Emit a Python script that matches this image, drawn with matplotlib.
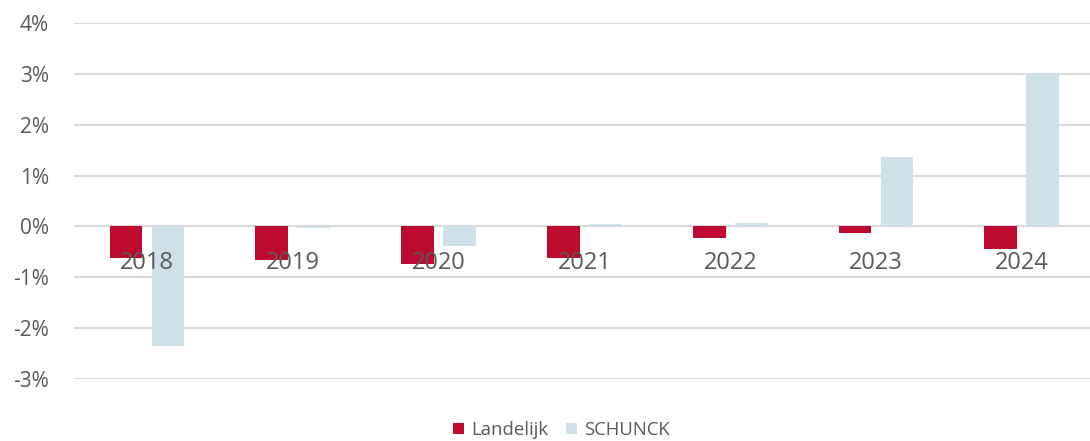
import matplotlib.pyplot as plt
import numpy as np
from matplotlib.ticker import FuncFormatter

plt.rcParams['font.family'] = ['Open Sans', 'DejaVu Sans']

years = ["2018", "2019", "2020", "2021", "2022", "2023", "2024"]
landelijk = [-0.63, -0.67, -0.73, -0.62, -0.23, -0.12, -0.44]
schunck = [-2.36, -0.03, -0.38, 0.04, 0.07, 1.36, 3.02]

red = "#BE0A2F"
blue = "#CEE1E8"
grid_c = "#D9D9D9"
txt = "#595959"

fig = plt.figure(figsize=(10.9, 4.41), dpi=100)
ax = fig.add_axes([0.068, 0.1406, 0.9363, 0.8073])

x = np.arange(len(years))
w = 0.224
off = 0.144

# gridlines under the bars, year labels above them
for v in range(-3, 5):
    ax.axhline(v, color=grid_c, linewidth=1.5, zorder=0)
ax.bar(x - off, landelijk, w, color=red, label="Landelijk", zorder=1)
ax.bar(x + off, schunck, w, color=blue, label="SCHUNCK", zorder=1)
ax.set_axisbelow(False)

ax.set_xlim(-0.5, len(years) - 0.5)
ax.set_ylim(-3, 4)
ax.set_yticks(range(-3, 5))
ax.yaxis.set_major_formatter(FuncFormatter(lambda v, p: f"{int(v)}%"))

ax.set_xticks(x)
ax.set_xticklabels(years)
for s in ["top", "right", "left", "bottom"]:
    ax.spines[s].set_visible(False)
ax.spines["bottom"].set_position(("data", 0))

ax.tick_params(axis="x", length=0, pad=18, labelsize=17, labelcolor=txt)
ax.tick_params(axis="y", length=0, pad=18, labelsize=15, labelcolor=txt)

leg = fig.legend(loc="center", bbox_to_anchor=(0.515, 0.025), ncol=2, frameon=False,
                 fontsize=13.3, handlelength=0.6, handleheight=0.6,
                 handletextpad=0.35, columnspacing=1.0)
for t in leg.get_texts():
    t.set_color(txt)

fig.savefig("out.png", dpi=100)
